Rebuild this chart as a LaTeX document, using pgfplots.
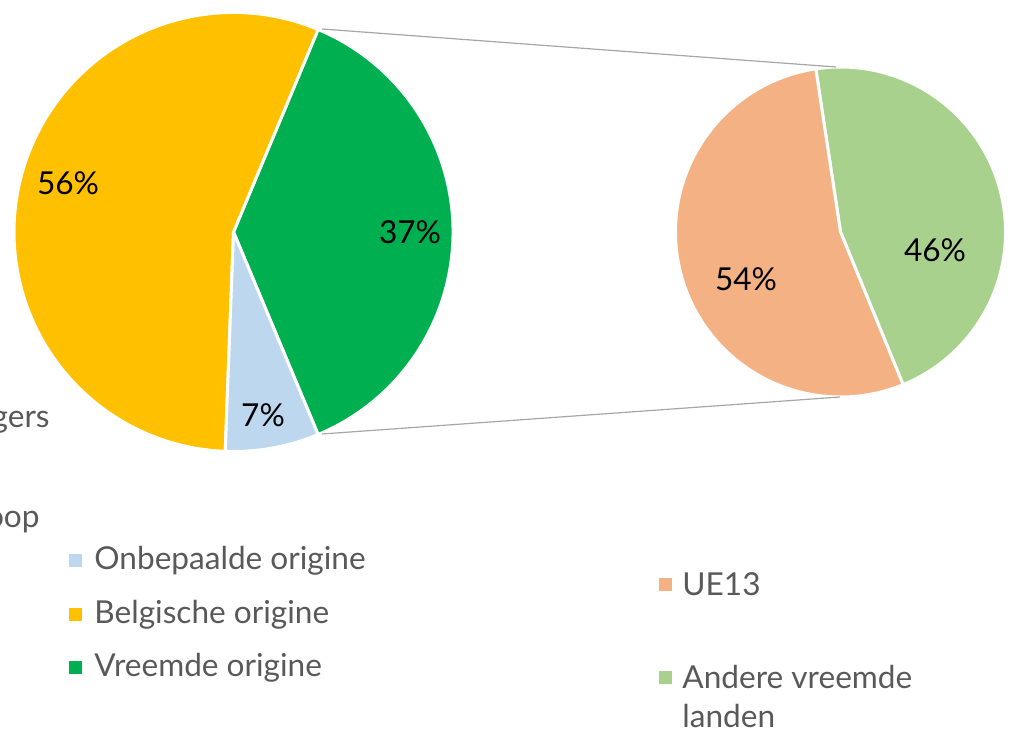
\documentclass[border=0pt]{standalone}
\usepackage{pgfplots}
\pgfplotsset{compat=1.18}
\usepackage{fontspec}
\setmainfont{Lato}
\definecolor{cYel}{HTML}{FFC000}
\definecolor{cGrn}{HTML}{00B050}
\definecolor{cBlu}{HTML}{BDD7EE}
\definecolor{cOra}{HTML}{F4B183}
\definecolor{cLgr}{HTML}{A9D18E}
\definecolor{cTxt}{HTML}{595959}
\definecolor{cLin}{HTML}{A6A6A6}
% shares (percent)
\def\vO{6.9}   % Onbepaalde origine
\def\vB{55.7}  % Belgische origine
\def\vV{37.4}  % Vreemde origine
\def\vU{53.8}  % UE13
\def\vA{46.2}  % Andere vreemde landen
\newcommand\pfont{\fontsize{15.8}{18}\selectfont}
\newcommand\lfont{\fontsize{15.8}{18}\selectfont}
\begin{document}
\begin{tikzpicture}
\begin{axis}[x=0.5pt,y=0.5pt,xmin=0,xmax=1012,ymin=0,ymax=735,hide axis,clip=false]
% left pie
\def\cx{233.5}\def\cy{503}\def\r{219.5}
\pgfmathsetmacro{\aA}{-\vV*1.8}
\pgfmathsetmacro{\aB}{\vV*1.8}
\pgfmathsetmacro{\aC}{\aB+\vB*3.6}
\pgfmathsetmacro{\aD}{\aC+\vO*3.6}
\filldraw[fill=cGrn,draw=white,line width=1.5pt,line join=round] (axis cs:\cx,\cy) -- (axis cs:{\cx+\r*cos(\aA)},{\cy+\r*sin(\aA)}) arc[start angle=\aA,end angle=\aB,radius=109.75pt] -- cycle;
\filldraw[fill=cYel,draw=white,line width=1.5pt,line join=round] (axis cs:\cx,\cy) -- (axis cs:{\cx+\r*cos(\aB)},{\cy+\r*sin(\aB)}) arc[start angle=\aB,end angle=\aC,radius=109.75pt] -- cycle;
\filldraw[fill=cBlu,draw=white,line width=1.5pt,line join=round] (axis cs:\cx,\cy) -- (axis cs:{\cx+\r*cos(\aC)},{\cy+\r*sin(\aC)}) arc[start angle=\aC,end angle=\aD,radius=109.75pt] -- cycle;
% right pie
\def\dx{840.5}\def\dy{503}\def\s{165}
\pgfmathsetmacro{\bA}{-67.7}
\pgfmathsetmacro{\bB}{\bA+\vA*3.6}
\pgfmathsetmacro{\bC}{\bB+\vU*3.6}
\filldraw[fill=cLgr,draw=white,line width=1.5pt,line join=round] (axis cs:\dx,\dy) -- (axis cs:{\dx+\s*cos(\bA)},{\dy+\s*sin(\bA)}) arc[start angle=\bA,end angle=\bB,radius=82.5pt] -- cycle;
\filldraw[fill=cOra,draw=white,line width=1.5pt,line join=round] (axis cs:\dx,\dy) -- (axis cs:{\dx+\s*cos(\bB)},{\dy+\s*sin(\bB)}) arc[start angle=\bB,end angle=\bC,radius=82.5pt] -- cycle;
% connector lines
\draw[cLin,line width=0.6pt] (axis cs:322,706) -- (axis cs:836,668);
\draw[cLin,line width=0.6pt] (axis cs:322,301) -- (axis cs:840,338);
% percentage labels
\node[font=\pfont] at (axis cs:68,552) {56\%};
\node[font=\pfont] at (axis cs:410,503) {37\%};
\node[font=\pfont] at (axis cs:263,320) {7\%};
\node[font=\pfont] at (axis cs:746,456) {54\%};
\node[font=\pfont] at (axis cs:935,485) {46\%};
% cropped text fragments at left
\node[anchor=east,inner sep=0pt,text=cTxt,font=\lfont] at (axis cs:50,313) {gers};
\node[anchor=east,inner sep=0pt,text=cTxt,font=\lfont] at (axis cs:40,213) {oop};
% legends
\fill[cBlu] (axis cs:69,168) rectangle (axis cs:82,181);
\fill[cYel] (axis cs:69,114) rectangle (axis cs:82,127);
\fill[cGrn] (axis cs:69,61) rectangle (axis cs:82,74);
\node[anchor=west,inner sep=0pt,text=cTxt,font=\lfont] at (axis cs:94,174) {Onbepaalde origine};
\node[anchor=west,inner sep=0pt,text=cTxt,font=\lfont] at (axis cs:94,120) {Belgische origine};
\node[anchor=west,inner sep=0pt,text=cTxt,font=\lfont] at (axis cs:94,67) {Vreemde origine};
\fill[cOra] (axis cs:659,144) rectangle (axis cs:672,157);
\fill[cLgr] (axis cs:659,51) rectangle (axis cs:672,64);
\node[anchor=west,inner sep=0pt,text=cTxt,font=\lfont] at (axis cs:682,151) {UE13};
\node[anchor=west,inner sep=0pt,text=cTxt,font=\lfont] at (axis cs:682,58) {Andere vreemde};
\node[anchor=west,inner sep=0pt,text=cTxt,font=\lfont] at (axis cs:682,19) {landen};
\coordinate (bl) at (axis cs:0,0);
\coordinate (tr) at (axis cs:1012,735);
\end{axis}
\pgfresetboundingbox
\useasboundingbox (bl) rectangle (tr);
\end{tikzpicture}
\end{document}
